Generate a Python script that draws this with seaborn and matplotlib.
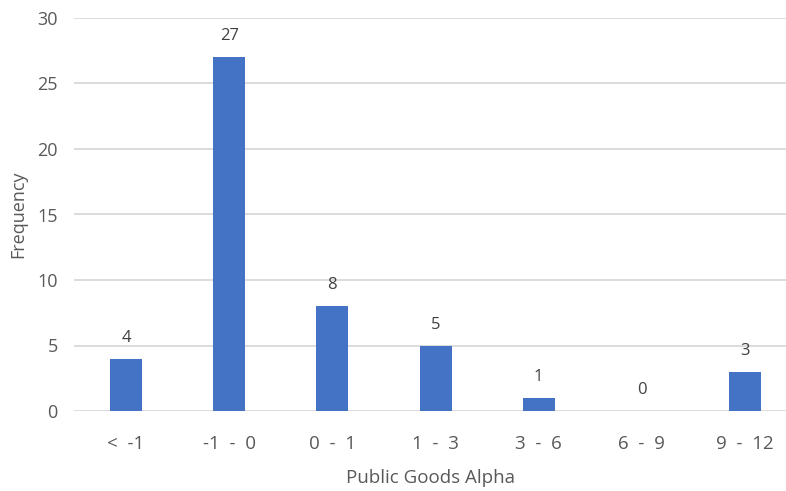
import matplotlib
matplotlib.use("Agg")
import matplotlib.pyplot as plt
import seaborn as sns
import pandas as pd

categories = ["<  -1", "-1  -  0", "0  -  1", "1  -  3", "3  -  6", "6  -  9", "9  -  12"]
frequency = [4, 27, 8, 5, 1, 0, 3]
y_ticks = [0, 5, 10, 15, 20, 25, 30]

df = pd.DataFrame({"cat": categories, "freq": frequency})

sns.set_theme(style="white")
plt.rcParams["font.family"] = ["Open Sans", "DejaVu Sans"]

fig = plt.figure(figsize=(7.86, 4.91), dpi=100)
ax = fig.add_axes([74.4 / 786, 80 / 491, 1 - 74.4 / 786, 393 / 491])

sns.barplot(data=df, x="cat", y="freq", color="#4472C4", saturation=1,
            width=0.31, ax=ax, zorder=3, linewidth=0)

ax.set_ylim(0, 30)
ax.set_xlim(-0.5, 6.397)
ax.set_yticks(y_ticks)
ax.yaxis.grid(True, color="#d9d9d9", linewidth=1.3, zorder=0)
ax.xaxis.grid(False)
for s in ax.spines.values():
    s.set_visible(False)
ax.tick_params(axis="y", length=0, pad=12, labelsize=13, labelcolor="#595959")
ax.tick_params(axis="x", length=0, pad=17, labelsize=13.5, labelcolor="#595959")

for i, v in enumerate(frequency):
    ax.annotate(str(v), (i, v), xytext=(0, 15), textcoords="offset points",
                ha="center", va="center", fontsize=12, color="#404040")

ax.set_xlabel("Public Goods Alpha", fontsize=13.5, color="#595959", labelpad=12)
ax.set_ylabel("Frequency", fontsize=13, color="#595959", labelpad=7)

fig.savefig("out.png", dpi=100)
